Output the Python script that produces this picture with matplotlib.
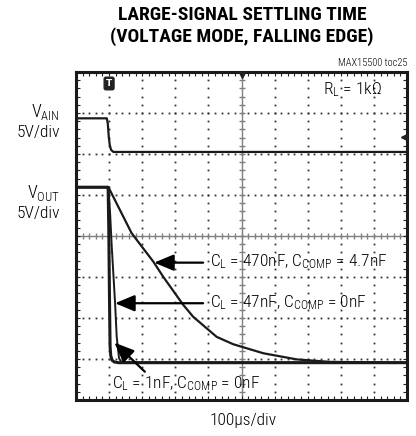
import numpy as np
import matplotlib
matplotlib.use("Agg")
import matplotlib.pyplot as plt

BODY = ['Roboto Condensed', 'DejaVu Sans']
plt.rcParams['font.family'] = BODY
plt.rcParams['font.weight'] = 'light'
plt.rcParams['mathtext.fontset'] = 'custom'
plt.rcParams['mathtext.rm'] = 'Roboto Condensed:light'
plt.rcParams['mathtext.it'] = 'Roboto Condensed:light'
plt.rcParams['mathtext.bf'] = 'Roboto Condensed:bold'

# ---- data (time in divisions of 100us, level in screen divisions) ----
vain_t = [0, 0.93, 0.96, 0.99, 1.02, 1.06, 1.13, 10]
vain_v = [6.87, 6.87, 6.75, 6.42, 6.22, 6.10, 6.05, 6.05]

c470_t = [0, 0.98, 1.33, 1.68, 2.00, 2.34, 2.64, 3.24, 3.54, 4.25, 4.75, 5.66, 6.67, 7.67, 10]
c470_v = [5.19, 5.19, 4.63, 4.07, 3.73, 3.37, 3.00, 2.32, 2.03, 1.54, 1.36, 1.14, 0.99, 0.93, 0.91]

c47_t = [0, 0.98, 1.03, 1.08, 1.18, 1.23, 1.30, 1.35, 1.43, 10]
c47_v = [5.19, 5.19, 4.56, 3.74, 2.37, 1.54, 1.02, 0.95, 0.92, 0.91]

c1_t = [0, 0.97, 0.99, 1.01, 1.03, 1.05, 1.09, 1.15, 1.28, 10]
c1_v = [5.19, 5.19, 4.20, 2.60, 1.30, 1.08, 0.97, 0.93, 0.91, 0.91]

label_470 = r'C$\mathregular{_L}$ = 470nF, C$\mathregular{_{COMP}}$ = 4.7nF'
label_47 = r'C$\mathregular{_L}$ = 47nF, C$\mathregular{_{COMP}}$ = 0nF'
label_1 = r'C$\mathregular{_L}$ = 1nF, C$\mathregular{_{COMP}}$ = 0nF'

W, H = 416, 436
fig = plt.figure(figsize=(W / 100, H / 100), dpi=100)
ax = fig.add_axes([76 / W, 1 - 400 / H, 331 / W, 328 / H])
ax.set_xlim(0, 10)
ax.set_ylim(0, 8)

dot = '#333333'
# dotted graticule
for gx in range(1, 10):
    if gx == 5:
        continue
    ys = np.arange(0, 8.01, 0.2)
    ax.plot([gx] * len(ys), ys, ls='none', marker='s', ms=1.3, mec='none', color=dot, zorder=1)
for gy in range(1, 8):
    if gy == 4:
        continue
    xs = np.arange(0, 10.01, 0.2)
    ax.plot(xs, [gy] * len(xs), ls='none', marker='s', ms=1.3, mec='none', color=dot, zorder=1)

# center axes with ticks
cg = '#808080'
ax.axhline(4, color=cg, lw=1.0, zorder=1)
ax.axvline(5, color=cg, lw=1.0, zorder=1)
xs = np.arange(0, 10.01, 0.2)
ax.plot(xs, [4] * len(xs), ls='none', marker='|', ms=5, mew=1.0, color=cg, zorder=1)
ys = np.arange(0, 8.01, 0.2)
ax.plot([5] * len(ys), ys, ls='none', marker='_', ms=5, mew=1.0, color=cg, zorder=1)

# traces
tc = '#1a1a1a'
ax.plot(vain_t, vain_v, color=tc, lw=1.6, zorder=3)
ax.plot(c470_t, c470_v, color=tc, lw=1.6, zorder=3)
ax.plot(c47_t, c47_v, color=tc, lw=1.4, zorder=3)
ax.plot(c1_t, c1_v, color=tc, lw=2.2, zorder=3)

# annotations
ap = dict(arrowstyle='-|>,head_length=1.2,head_width=0.5', color='black', lw=1.6,
          shrinkA=0, shrinkB=0)
ax.annotate('', xy=(2.36, 3.35), xytext=(3.84, 3.35), arrowprops=ap, zorder=4)
ax.annotate('', xy=(1.18, 2.36), xytext=(3.84, 2.36), arrowprops=ap, zorder=4)
ax.annotate('', xy=(1.16, 1.40), xytext=(2.08, 0.69), arrowprops=ap, zorder=4)
fs = 12.5
ax.text(4.05, 3.37, label_470, fontsize=fs, va='center', ha='left', zorder=5)
ax.text(4.05, 2.37, label_47, fontsize=fs, va='center', ha='left', zorder=5)
ax.text(1.09, 0.41, label_1, fontsize=fs, va='center', ha='left', zorder=5)
ax.text(7.46, 7.56, r'R$\mathregular{_L}$ = 1k$\Omega$', fontsize=fs, va='center', ha='left')

# scope markers
ax.text(1.0, 7.72, 'T', fontsize=6.5, color='white', fontweight='bold', ha='center', va='center',
        family='DejaVu Sans',
        bbox=dict(boxstyle='round,pad=0.2', fc='#222222', ec='#222222'), zorder=6)
ax.plot([5], [7.93], marker='v', ms=5, color='#222222', clip_on=False, zorder=6)
ax.plot([9.9], [6.42], marker='<', ms=5, color='#222222', zorder=6)
ax.plot([9.9, 10], [6.42, 6.42], color='#222222', lw=1.5, zorder=6)

# frame and ticks
ax.set_xticks(np.arange(0, 10.01, 0.2))
ax.set_yticks(np.arange(0, 8.01, 0.2))
ax.tick_params(direction='in', length=3, width=0.8, top=True, right=True,
               labelbottom=False, labelleft=False, color='#222222')
for s in ax.spines.values():
    s.set_linewidth(2.2)
    s.set_color('#1a1a1a')

# left channel labels
fig.text(60 / W, 1 - 112 / H, r'V$\mathregular{_{AIN}}$', fontsize=13, ha='right', va='center')
fig.text(60 / W, 1 - 132 / H, '5V/div', fontsize=fs, ha='right', va='center')
fig.text(60 / W, 1 - 193 / H, r'V$\mathregular{_{OUT}}$', fontsize=13, ha='right', va='center')
fig.text(60 / W, 1 - 213 / H, '5V/div', fontsize=fs, ha='right', va='center')

# titles
fig.text(242 / W, 1 - 15 / H, 'LARGE-SIGNAL SETTLING TIME', fontsize=14, fontweight='black',
         ha='center', va='center')
fig.text(242 / W, 1 - 37 / H, '(VOLTAGE MODE, FALLING EDGE)', fontsize=14, fontweight='black',
         ha='center', va='center')
fig.text(407 / W, 1 - 63 / H, 'MAX15500 toc25', fontsize=7.5, ha='right', va='center')
fig.text(243 / W, 1 - 420 / H, '100µs/div', fontsize=fs, ha='center', va='center')

fig.savefig('out.png', dpi=100)
